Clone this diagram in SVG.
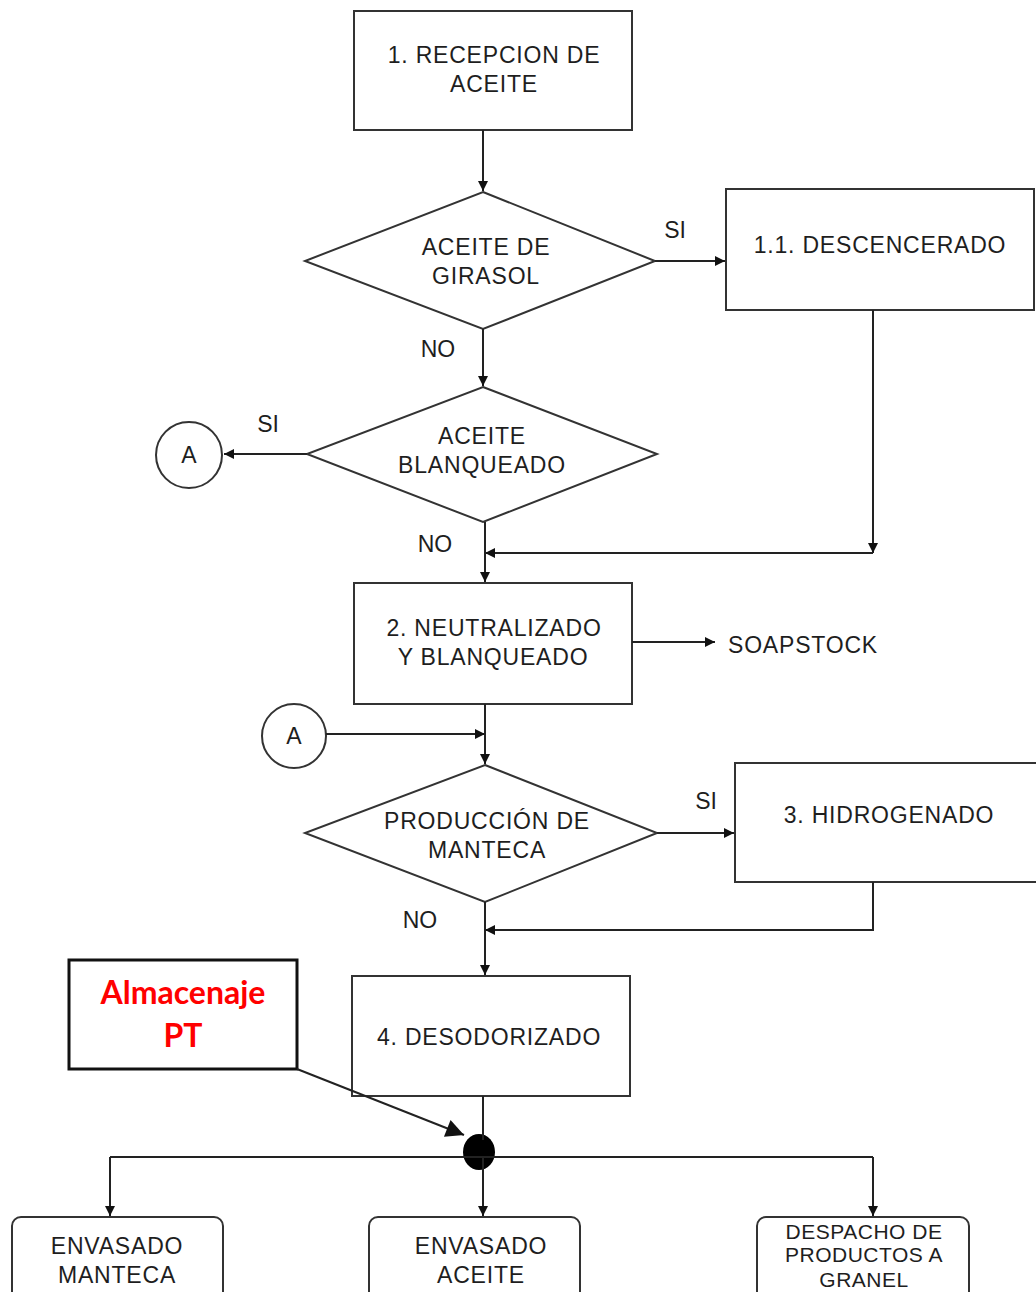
<svg xmlns="http://www.w3.org/2000/svg" width="1036" height="1292" viewBox="0 0 1036 1292">
  <defs>
    <marker id="arrow" viewBox="0 0 10 10" refX="10" refY="5" markerWidth="11" markerHeight="10" markerUnits="userSpaceOnUse" orient="auto">
      <path d="M0,0 L10,5 L0,10 z" fill="#111"/>
    </marker>
    <marker id="arrowBig" viewBox="0 0 10 10" refX="10" refY="5" markerWidth="20" markerHeight="18" markerUnits="userSpaceOnUse" orient="auto">
      <path d="M0,0 L10,5 L0,10 z" fill="#111"/>
    </marker>
    <style>
      .box { fill: #fff; stroke: #333; stroke-width: 2; }
      .dia { fill: #fff; stroke: #333; stroke-width: 2; }
      .conn { fill: none; stroke: #222; stroke-width: 2; }
      .t { font-family: "Liberation Sans", Arial, sans-serif; font-size: 23px; fill: #1e1e1e; text-anchor: middle; letter-spacing: 0.8px; }
      .lbl { font-family: "Liberation Sans", Arial, sans-serif; font-size: 23px; fill: #1e1e1e; text-anchor: middle; }
      .small { font-size: 21px; letter-spacing: 0.5px; }
      .note { font-family: Lato, "Open Sans", sans-serif; font-weight: bold; font-size: 32px; fill: #f00; text-anchor: middle; }
    </style>
  </defs>
  <rect width="1036" height="1292" fill="#fff"/>

  <g id="recepcion">
    <rect class="box" x="354" y="11" width="278" height="119"/>
    <text class="t" x="494" y="63">1. RECEPCION DE</text>
    <text class="t" x="494" y="92">ACEITE</text>
  </g>

  <g id="girasol">
    <polygon class="dia" points="483,192 655,261 483,329 305,261"/>
    <text class="t" x="486" y="255">ACEITE DE</text>
    <text class="t" x="486" y="284">GIRASOL</text>
  </g>

  <g id="descencerado">
    <rect class="box" x="726" y="189" width="308" height="121"/>
    <text class="t" x="880" y="253">1.1. DESCENCERADO</text>
  </g>

  <g id="blanqueado-q">
    <polygon class="dia" points="483,387 657,454 483,522 307,454"/>
    <text class="t" x="482" y="444">ACEITE</text>
    <text class="t" x="482" y="473">BLANQUEADO</text>
  </g>

  <g id="conector-a1">
    <circle cx="189" cy="455" r="33" fill="#fff" stroke="#333" stroke-width="2"/>
    <text class="lbl" x="189" y="463">A</text>
  </g>

  <g id="neutralizado">
    <rect class="box" x="354" y="583" width="278" height="121"/>
    <text class="t" x="494" y="636">2. NEUTRALIZADO</text>
    <text class="t" x="493" y="665">Y BLANQUEADO</text>
  </g>

  <g id="soapstock">
    <text class="t" x="803" y="653">SOAPSTOCK</text>
  </g>

  <g id="conector-a2">
    <circle cx="294" cy="736" r="32" fill="#fff" stroke="#333" stroke-width="2"/>
    <text class="lbl" x="294" y="744">A</text>
  </g>

  <g id="manteca-q">
    <polygon class="dia" points="485,765 657,833 485,902 305,833"/>
    <text class="t" x="487" y="829">PRODUCCIÓN DE</text>
    <text class="t" x="487" y="858">MANTECA</text>
  </g>

  <g id="hidrogenado">
    <rect class="box" x="735" y="763" width="310" height="119"/>
    <text class="t" x="889" y="823">3. HIDROGENADO</text>
  </g>

  <g id="desodorizado">
    <rect class="box" x="352" y="976" width="278" height="120"/>
    <text class="t" x="489" y="1045">4. DESODORIZADO</text>
  </g>

  <g id="almacenaje">
    <rect x="69" y="960" width="228" height="109" fill="#fff" stroke="#111" stroke-width="3"/>
    <text class="note" x="183" y="1004">Almacenaje</text>
    <text class="note" x="183" y="1047">PT</text>
  </g>

  <g id="nodo-union">
    <ellipse cx="479" cy="1152" rx="16" ry="18" fill="#000"/>
  </g>

  <g id="envasado-manteca">
    <rect class="box" x="12" y="1217" width="211" height="90" rx="9"/>
    <text class="t" x="117" y="1254">ENVASADO</text>
    <text class="t" x="117" y="1283">MANTECA</text>
  </g>

  <g id="envasado-aceite">
    <rect class="box" x="369" y="1217" width="211" height="90" rx="9"/>
    <text class="t" x="481" y="1254">ENVASADO</text>
    <text class="t" x="481" y="1283">ACEITE</text>
  </g>

  <g id="despacho">
    <rect class="box" x="757" y="1217" width="212" height="90" rx="9"/>
    <text class="t small" x="864" y="1239">DESPACHO DE</text>
    <text class="t small" x="864" y="1262">PRODUCTOS A</text>
    <text class="t small" x="864" y="1287">GRANEL</text>
  </g>

  <!-- connectors, drawn last so the storage arrow shows over box 4 -->
  <g id="connectors">
    <line class="conn" x1="483" y1="130" x2="483" y2="191" marker-end="url(#arrow)"/>
    <line class="conn" x1="655" y1="261" x2="725" y2="261" marker-end="url(#arrow)"/>
    <line class="conn" x1="483" y1="329" x2="483" y2="386" marker-end="url(#arrow)"/>
    <line class="conn" x1="307" y1="454" x2="224" y2="454" marker-end="url(#arrow)"/>
    <line class="conn" x1="873" y1="310" x2="873" y2="553" marker-end="url(#arrow)"/>
    <line class="conn" x1="873" y1="553" x2="485" y2="553" marker-end="url(#arrow)"/>
    <line class="conn" x1="485" y1="522" x2="485" y2="582" marker-end="url(#arrow)"/>
    <line class="conn" x1="632" y1="642" x2="715" y2="642" marker-end="url(#arrow)"/>
    <line class="conn" x1="485" y1="704" x2="485" y2="764" marker-end="url(#arrow)"/>
    <line class="conn" x1="326" y1="734" x2="485" y2="734" marker-end="url(#arrow)"/>
    <line class="conn" x1="657" y1="833" x2="734" y2="833" marker-end="url(#arrow)"/>
    <polyline class="conn" points="873,882 873,930 485,930" marker-end="url(#arrow)"/>
    <line class="conn" x1="485" y1="902" x2="485" y2="975" marker-end="url(#arrow)"/>
    <line class="conn" x1="483" y1="1096" x2="483" y2="1140"/>
    <line class="conn" x1="297" y1="1069" x2="464" y2="1135" marker-end="url(#arrowBig)"/>
    <line class="conn" x1="110" y1="1157" x2="873" y2="1157"/>
    <line class="conn" x1="110" y1="1157" x2="110" y2="1216" marker-end="url(#arrow)"/>
    <line class="conn" x1="483" y1="1157" x2="483" y2="1216" marker-end="url(#arrow)"/>
    <line class="conn" x1="873" y1="1157" x2="873" y2="1216" marker-end="url(#arrow)"/>
    <text class="lbl" x="675" y="238">SI</text>
    <text class="lbl" x="438" y="357">NO</text>
    <text class="lbl" x="268" y="432">SI</text>
    <text class="lbl" x="435" y="552">NO</text>
    <text class="lbl" x="706" y="809">SI</text>
    <text class="lbl" x="420" y="928">NO</text>
  </g>
</svg>
